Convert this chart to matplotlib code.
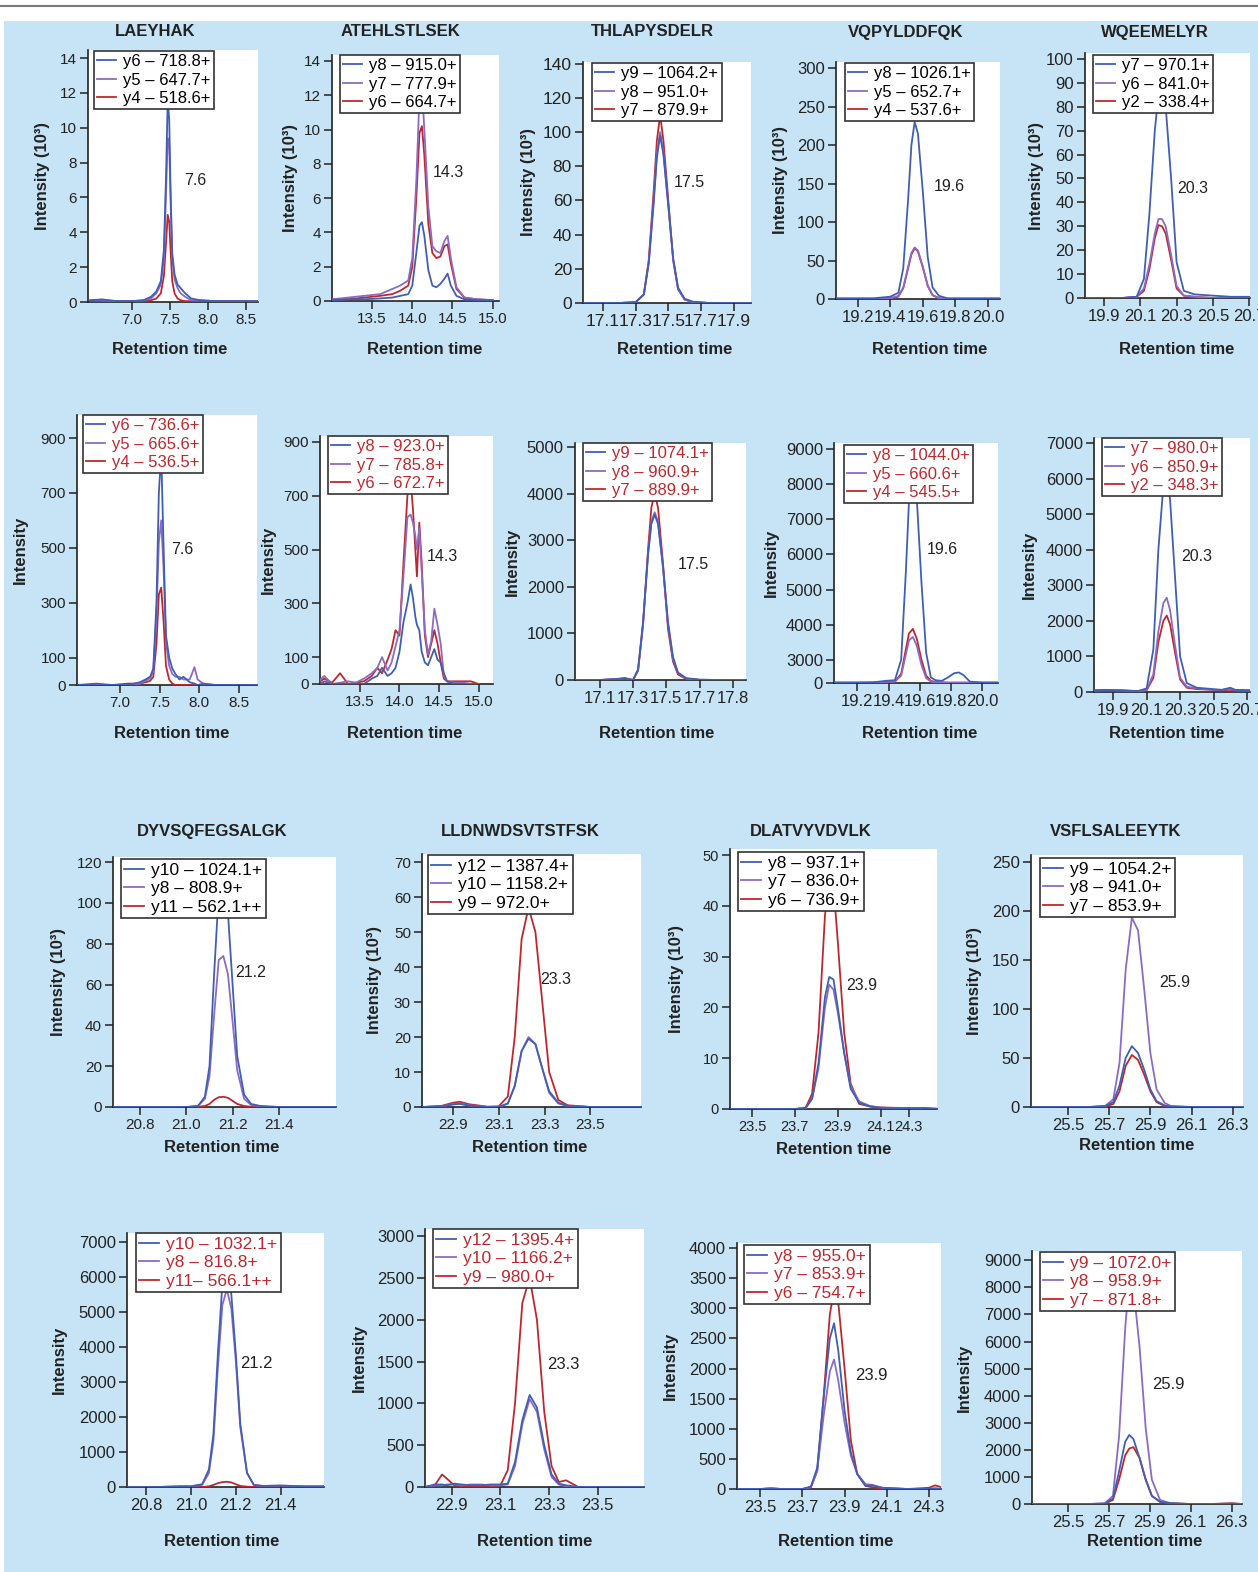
import matplotlib.pyplot as plt
from matplotlib.patches import Rectangle
from matplotlib.lines import Line2D

plt.rcParams['font.family'] = ['Liberation Sans', 'DejaVu Sans']

# ---------------- data ----------------
titles = ["LAEYHAK", "ATEHLSTLSEK", "THLAPYSDELR", "VQPYLDDFQK", "WQEEMELYR",
          "DYVSQFEGSALGK", "LLDNWDSVTSTFSK", "DLATVYVDVLK", "VSFLSALEEYTK"]
peak_rt = ["7.6", "14.3", "17.5", "19.6", "20.3",
           "7.6", "14.3", "17.5", "19.6", "20.3",
           "21.2", "23.3", "23.9", "25.9",
           "21.2", "23.3", "23.9", "25.9"]

# row 1, intensity in 10^3
p01_ions = ["y6 \u2013 718.8+", "y5 \u2013 647.7+", "y4 \u2013 518.6+"]
p01_time = [6.45, 6.6, 6.8, 7.0, 7.15, 7.25, 7.32, 7.38, 7.42, 7.45, 7.47, 7.49, 7.51, 7.53, 7.56, 7.6, 7.64, 7.7, 7.78, 7.9, 8.1, 8.4, 8.65]
p01_blue = [0.1, 0.15, 0.05, 0.05, 0.1, 0.3, 0.6, 1.2, 3.0, 7.5, 11.6, 10.5, 6.0, 2.8, 1.6, 1.0, 0.8, 0.5, 0.2, 0.1, 0.05, 0.05, 0.05]
p01_purple = [0.1, 0.1, 0.05, 0.05, 0.1, 0.2, 0.5, 1.0, 2.5, 6.5, 9.4, 9.0, 5.5, 2.5, 1.3, 0.8, 0.5, 0.3, 0.1, 0.1, 0.05, 0.05, 0.05]
p01_red = [0.05, 0.05, 0.05, 0.05, 0.05, 0.1, 0.2, 0.5, 1.5, 3.5, 5.0, 4.6, 2.8, 1.2, 0.5, 0.2, 0.1, 0.05, 0.05, 0.05, 0.05, 0.05, 0.05]

p02_ions = ["y8 \u2013 915.0+", "y7 \u2013 777.9+", "y6 \u2013 664.7+"]
p02_time = [13.0, 13.2, 13.4, 13.6, 13.75, 13.85, 13.95, 14.0, 14.05, 14.09, 14.12, 14.15, 14.2, 14.25, 14.3, 14.35, 14.4, 14.44, 14.48, 14.55, 14.65, 14.8, 15.0]
p02_blue = [0.05, 0.1, 0.1, 0.15, 0.2, 0.3, 0.4, 0.9, 2.8, 4.4, 4.6, 3.8, 1.8, 0.9, 0.8, 1.0, 1.3, 1.6, 0.9, 0.3, 0.1, 0.05, 0.05]
p02_purple = [0.1, 0.2, 0.3, 0.4, 0.7, 0.9, 1.2, 2.5, 7.0, 12.0, 12.5, 10.0, 5.5, 3.2, 2.9, 2.8, 3.5, 3.8, 2.5, 0.8, 0.2, 0.1, 0.05]
p02_red = [0.1, 0.1, 0.2, 0.3, 0.4, 0.6, 0.9, 2.0, 6.0, 9.8, 10.2, 8.5, 4.5, 2.8, 2.5, 2.6, 3.2, 3.3, 2.2, 0.7, 0.2, 0.1, 0.05]

p03_ions = ["y9 \u2013 1064.2+", "y8 \u2013 951.0+", "y7 \u2013 879.9+"]
p03_time = [16.98, 17.1, 17.2, 17.3, 17.35, 17.38, 17.41, 17.43, 17.45, 17.47, 17.5, 17.53, 17.56, 17.6, 17.65, 17.75, 17.9, 18.0]
p03_blue = [0, 0, 0, 0.5, 5, 23, 58, 85, 98, 87, 57, 26, 9, 2.5, 0.8, 0, 0, 0]
p03_purple = [0, 0, 0, 0.5, 5, 24, 60, 88, 100, 88, 57, 25, 8, 2, 0.5, 0, 0, 0]
p03_red = [0, 0, 0, 0.5, 5, 25, 65, 95, 110, 95, 60, 25, 8, 2, 0.5, 0, 0, 0]

p04_ions = ["y8 \u2013 1026.1+", "y5 \u2013 652.7+", "y4 \u2013 537.6+"]
p04_time = [19.07, 19.2, 19.3, 19.4, 19.45, 19.48, 19.51, 19.53, 19.55, 19.57, 19.6, 19.63, 19.66, 19.7, 19.75, 19.85, 20.0, 20.07]
p04_blue = [1, 1, 1, 3, 8, 40, 130, 200, 230, 215, 140, 55, 15, 4, 1, 1, 1, 1]
p04_purple = [0, 0, 0, 1, 4, 15, 42, 60, 67, 63, 42, 18, 5, 1, 0, 0, 0, 0]
p04_red = [0, 0, 0, 1, 3, 14, 40, 58, 66, 62, 41, 17, 5, 1, 0, 0, 0, 0]

p05_ions = ["y7 \u2013 970.1+", "y6 \u2013 841.0+", "y2 \u2013 338.4+"]
p05_time = [19.8, 19.9, 20.0, 20.08, 20.12, 20.15, 20.18, 20.2, 20.22, 20.24, 20.27, 20.3, 20.34, 20.4, 20.5, 20.6, 20.75]
p05_blue = [0, 0, 0, 0.5, 8, 35, 70, 85, 87, 80, 50, 15, 3, 1.5, 1, 0.5, 0.5]
p05_purple = [0, 0, 0, 0.5, 4, 14, 27, 33, 33, 30, 18, 5, 1, 0.5, 0, 0, 0]
p05_red = [0, 0, 0, 0.5, 3, 12, 25, 30.5, 30, 27, 16, 4, 1, 0.5, 0, 0, 0]

# row 2, intensity
p06_ions = ["y6 \u2013 736.6+", "y5 \u2013 665.6+", "y4 \u2013 536.5+"]
p06_time = [6.46, 6.7, 6.9, 7.1, 7.25, 7.32, 7.38, 7.42, 7.46, 7.49, 7.52, 7.55, 7.58, 7.62, 7.66, 7.7, 7.75, 7.8, 7.88, 7.94, 7.98, 8.05, 8.2, 8.5, 8.73]
p06_blue = [0, 5, 0, 0, 10, 20, 30, 60, 300, 700, 845, 500, 180, 100, 60, 40, 20, 30, 10, 5, 0, 5, 0, 0, 0]
p06_purple = [0, 0, 0, 0, 5, 15, 25, 50, 250, 520, 600, 420, 160, 70, 40, 30, 30, 20, 20, 65, 20, 5, 0, 0, 0]
p06_red = [0, 0, 0, 5, 5, 10, 15, 30, 150, 330, 355, 230, 70, 20, 5, 0, 0, 0, 0, 0, 0, 0, 0, 0, 0]

p07_ions = ["y8 \u2013 923.0+", "y7 \u2013 785.8+", "y6 \u2013 672.7+"]
p07_time = [13.0, 13.05, 13.15, 13.25, 13.35, 13.45, 13.55, 13.65, 13.72, 13.78, 13.85, 13.9, 13.95, 14.0, 14.05, 14.1, 14.14, 14.17, 14.2, 14.22, 14.25, 14.28, 14.32, 14.36, 14.4, 14.44, 14.48, 14.52, 14.56, 14.6, 14.7, 14.8, 14.9, 15.0]
p07_blue = [0, 10, 0, 0, 0, 0, 0, 20, 30, 60, 30, 40, 60, 120, 230, 300, 370, 320, 250, 220, 200, 120, 80, 70, 100, 130, 90, 80, 40, 10, 0, 0, 0, 0]
p07_purple = [15, 30, 0, 5, 10, 5, 20, 40, 60, 100, 50, 80, 140, 200, 400, 620, 630, 600, 550, 500, 580, 420, 200, 110, 160, 280, 220, 150, 30, 10, 5, 5, 0, 0]
p07_red = [10, 20, 5, 40, 0, 5, 10, 30, 60, 40, 90, 130, 200, 180, 450, 700, 760, 650, 500, 400, 600, 450, 180, 100, 150, 200, 150, 80, 20, 10, 10, 10, 10, 0]

p08_ions = ["y9 \u2013 1074.1+", "y8 \u2013 960.9+", "y7 \u2013 889.9+"]
p08_time = [16.95, 17.1, 17.2, 17.25, 17.3, 17.33, 17.36, 17.39, 17.41, 17.43, 17.45, 17.48, 17.51, 17.54, 17.57, 17.62, 17.7, 17.8, 17.98]
p08_blue = [0, 0, 20, 40, 0, 230, 1250, 2700, 3350, 3550, 3350, 2450, 1250, 500, 160, 40, 10, 0, 0]
p08_purple = [0, 0, 20, 40, 0, 220, 1200, 2700, 3400, 3600, 3400, 2400, 1200, 450, 150, 30, 0, 0, 0]
p08_red = [0, 0, 20, 30, 0, 200, 1200, 2800, 3700, 4000, 3700, 2500, 1100, 400, 120, 20, 0, 0, 0]

p09_ions = ["y8 \u2013 1044.0+", "y5 \u2013 660.6+", "y4 \u2013 545.5+"]
p09_time = [19.05, 19.2, 19.3, 19.38, 19.44, 19.48, 19.51, 19.53, 19.555, 19.58, 19.61, 19.64, 19.67, 19.7, 19.74, 19.78, 19.82, 19.85, 19.88, 19.92, 20.0, 20.1]
p09_blue = [2350, 2350, 2360, 2400, 2420, 3000, 5500, 7500, 8370, 7600, 5200, 3200, 2500, 2420, 2400, 2500, 2620, 2640, 2560, 2380, 2350, 2350]
p09_purple = [2350, 2350, 2350, 2370, 2380, 2550, 3150, 3550, 3650, 3400, 2850, 2480, 2380, 2360, 2355, 2350, 2350, 2350, 2350, 2350, 2350, 2350]
p09_red = [2350, 2350, 2350, 2370, 2380, 2600, 3300, 3750, 3880, 3600, 3000, 2550, 2400, 2370, 2360, 2350, 2350, 2350, 2350, 2350, 2350, 2350]

p10_ions = ["y7 \u2013 980.0+", "y6 \u2013 850.9+", "y2 \u2013 348.3+"]
p10_time = [19.79, 19.85, 19.95, 20.05, 20.1, 20.14, 20.17, 20.2, 20.22, 20.24, 20.27, 20.3, 20.34, 20.4, 20.45, 20.5, 20.55, 20.6, 20.63, 20.7, 20.75]
p10_blue = [50, 60, 40, 30, 100, 1200, 4000, 5800, 6100, 5400, 3200, 1000, 250, 120, 100, 80, 60, 120, 60, 50, 50]
p10_purple = [40, 50, 40, 20, 60, 500, 1700, 2500, 2650, 2300, 1300, 400, 150, 100, 80, 60, 60, 90, 50, 40, 40]
p10_red = [40, 50, 50, 20, 50, 400, 1400, 2000, 2150, 1900, 1100, 350, 120, 80, 70, 60, 50, 60, 40, 40, 40]

# row 3, intensity in 10^3
p11_ions = ["y10 \u2013 1024.1+", "y8 \u2013 808.9+", "y11 \u2013 562.1++"]
p11_time = [20.68, 20.8, 20.9, 21.0, 21.05, 21.08, 21.1, 21.12, 21.14, 21.16, 21.18, 21.2, 21.22, 21.25, 21.28, 21.32, 21.4, 21.5, 21.65]
p11_blue = [0, 0, 0, 0, 0.5, 5, 20, 65, 105, 108, 95, 60, 25, 6, 1.5, 0.5, 0, 0, 0]
p11_purple = [0, 0, 0, 0, 0.5, 4, 15, 45, 72, 74, 65, 42, 18, 4, 1, 0.3, 0, 0, 0]
p11_red = [0, 0, 0, 0, 0.1, 0.5, 1.5, 3.5, 4.8, 5, 4.5, 3, 1.5, 0.5, 0.1, 0, 0, 0, 0]

p12_ions = ["y12 \u2013 1387.4+", "y10 \u2013 1158.2+", "y9 \u2013 972.0+"]
p12_time = [22.77, 22.85, 22.9, 22.93, 22.97, 23.05, 23.1, 23.14, 23.17, 23.2, 23.23, 23.26, 23.29, 23.32, 23.36, 23.4, 23.5, 23.72]
p12_blue = [0, 0.2, 0.7, 0.9, 0.4, 0, 0, 1, 6, 16, 19.5, 18, 11, 4.5, 1.2, 0.3, 0, 0]
p12_purple = [0, 0.2, 0.8, 1.0, 0.5, 0, 0, 1, 6, 16, 20, 18, 11, 4, 1, 0.3, 0, 0]
p12_red = [0, 0.3, 1.2, 1.5, 0.8, 0.1, 0.2, 3, 20, 48, 57, 50, 30, 10, 2, 0.5, 0, 0]

p13_ions = ["y8 \u2013 937.1+", "y7 \u2013 836.0+", "y6 \u2013 736.9+"]
p13_time = [23.4, 23.5, 23.6, 23.7, 23.75, 23.78, 23.81, 23.84, 23.86, 23.88, 23.9, 23.93, 23.96, 24.0, 24.05, 24.1, 24.2, 24.3, 24.36]
p13_blue = [0, 0, 0, 0, 0.2, 2, 9, 22, 26, 25.5, 20, 11, 4, 1.2, 0.5, 0.2, 0.1, 0.2, 0.1]
p13_purple = [0, 0, 0, 0, 0.2, 2, 8, 20, 24.5, 23.5, 19, 11, 4.5, 1.5, 0.6, 0.3, 0.1, 0.1, 0]
p13_red = [0, 0, 0, 0, 0.2, 3, 15, 38, 45.5, 44, 33, 15, 5, 1, 0.5, 0.3, 0.2, 0.1, 0]

p14_ions = ["y9 \u2013 1054.2+", "y8 \u2013 941.0+", "y7 \u2013 853.9+"]
p14_time = [25.32, 25.5, 25.6, 25.68, 25.72, 25.75, 25.78, 25.81, 25.84, 25.87, 25.9, 25.93, 25.97, 26.0, 26.1, 26.2, 26.35]
p14_blue = [0, 0, 0, 1, 5, 22, 50, 62, 55, 38, 18, 6, 1.5, 0.5, 0, 0, 0]
p14_purple = [0, 0, 0, 1, 8, 45, 140, 193, 180, 120, 55, 18, 4, 1, 0, 0, 0]
p14_red = [0, 0, 0, 0.5, 3, 16, 42, 53, 48, 33, 16, 5, 1, 0.3, 0, 0, 0]

# row 4, intensity
p15_ions = ["y10 \u2013 1032.1+", "y8 \u2013 816.8+", "y11\u2013 566.1++"]
p15_time = [20.72, 20.85, 20.95, 21.0, 21.05, 21.08, 21.1, 21.12, 21.14, 21.16, 21.18, 21.2, 21.22, 21.25, 21.28, 21.32, 21.4, 21.5, 21.59]
p15_blue = [0, 0, 20, 20, 80, 500, 1500, 3800, 5800, 6300, 5500, 3800, 1800, 400, 60, 30, 40, 20, 20]
p15_purple = [0, 0, 20, 20, 60, 400, 1300, 3400, 5200, 5650, 5100, 3600, 1700, 400, 60, 30, 40, 20, 20]
p15_red = [0, 0, 0, 0, 0, 20, 60, 110, 140, 150, 130, 80, 30, 10, 0, 0, 0, 0, 0]

p16_ions = ["y12 \u2013 1395.4+", "y10 \u2013 1166.2+", "y9 \u2013 980.0+"]
p16_time = [22.79, 22.83, 22.86, 22.88, 22.91, 22.94, 22.98, 23.02, 23.06, 23.1, 23.13, 23.16, 23.19, 23.22, 23.25, 23.28, 23.31, 23.34, 23.37, 23.42, 23.5, 23.69]
p16_blue = [0, 30, 30, 20, 40, 30, 20, 20, 30, 30, 40, 300, 800, 1100, 950, 500, 150, 40, 20, 0, 0, 0]
p16_purple = [0, 20, 20, 30, 30, 20, 30, 30, 20, 20, 30, 250, 750, 1050, 900, 450, 120, 30, 10, 0, 0, 0]
p16_red = [0, 20, 150, 100, 20, 10, 0, 10, 0, 20, 200, 1000, 2200, 2500, 2000, 900, 250, 60, 80, 0, 0, 0]

p17_ions = ["y8 \u2013 955.0+", "y7 \u2013 853.9+", "y6 \u2013 754.7+"]
p17_time = [23.39, 23.5, 23.55, 23.6, 23.7, 23.74, 23.77, 23.8, 23.83, 23.85, 23.87, 23.9, 23.93, 23.96, 24.0, 24.03, 24.08, 24.2, 24.3, 24.33, 24.36]
p17_blue = [0, 0, 10, 0, 0, 40, 350, 1500, 2500, 2750, 2300, 1300, 600, 250, 50, 60, 20, 0, 0, 10, 0]
p17_purple = [0, 0, 10, 0, 0, 30, 300, 1200, 1950, 2150, 1800, 1100, 550, 250, 80, 70, 20, 0, 0, 10, 0]
p17_red = [0, 0, 10, 0, 0, 30, 300, 1500, 2900, 3300, 3100, 2000, 800, 250, 50, 30, 10, 0, 20, 60, 30]

p18_ions = ["y9 \u2013 1072.0+", "y8 \u2013 958.9+", "y7 \u2013 871.8+"]
p18_time = [25.33, 25.5, 25.6, 25.68, 25.72, 25.75, 25.78, 25.8, 25.82, 25.85, 25.88, 25.91, 25.95, 26.0, 26.1, 26.2, 26.3, 26.35]
p18_blue = [0, 0, 0, 20, 200, 1200, 2300, 2550, 2400, 1700, 900, 300, 80, 30, 0, 0, 10, 0]
p18_purple = [0, 0, 0, 20, 300, 2500, 6500, 8300, 8000, 5800, 2800, 900, 150, 30, 0, 0, 10, 0]
p18_red = [0, 0, 0, 10, 150, 900, 1800, 2050, 2100, 1700, 900, 300, 80, 20, 0, 0, 30, 0]

panels = [
    (p01_time, p01_blue, p01_purple, p01_red, p01_ions),
    (p02_time, p02_blue, p02_purple, p02_red, p02_ions),
    (p03_time, p03_blue, p03_purple, p03_red, p03_ions),
    (p04_time, p04_blue, p04_purple, p04_red, p04_ions),
    (p05_time, p05_blue, p05_purple, p05_red, p05_ions),
    (p06_time, p06_blue, p06_purple, p06_red, p06_ions),
    (p07_time, p07_blue, p07_purple, p07_red, p07_ions),
    (p08_time, p08_blue, p08_purple, p08_red, p08_ions),
    (p09_time, p09_blue, p09_purple, p09_red, p09_ions),
    (p10_time, p10_blue, p10_purple, p10_red, p10_ions),
    (p11_time, p11_blue, p11_purple, p11_red, p11_ions),
    (p12_time, p12_blue, p12_purple, p12_red, p12_ions),
    (p13_time, p13_blue, p13_purple, p13_red, p13_ions),
    (p14_time, p14_blue, p14_purple, p14_red, p14_ions),
    (p15_time, p15_blue, p15_purple, p15_red, p15_ions),
    (p16_time, p16_blue, p16_purple, p16_red, p16_ions),
    (p17_time, p17_blue, p17_purple, p17_red, p17_ions),
    (p18_time, p18_blue, p18_purple, p18_red, p18_ions),
]

# ---------------- axes setup ----------------
def steps(a, b, s):
    out = []
    v = a
    while v <= b + 1e-9:
        out.append(round(v, 3))
        v += s
    return out

xticks = [steps(7.0, 8.5, 0.5), steps(13.5, 15.0, 0.5), steps(17.1, 17.9, 0.2), steps(19.2, 20.0, 0.2), steps(19.9, 20.7, 0.2),
          steps(7.0, 8.5, 0.5), steps(13.5, 15.0, 0.5), steps(17.1, 17.9, 0.2), steps(19.2, 20.0, 0.2), steps(19.9, 20.7, 0.2),
          steps(20.8, 21.4, 0.2), steps(22.9, 23.5, 0.2), [23.5, 23.7, 23.9, 24.1, 24.23], steps(25.5, 26.3, 0.2),
          steps(20.8, 21.4, 0.2), steps(22.9, 23.5, 0.2), steps(23.5, 24.3, 0.2), steps(25.5, 26.3, 0.2)]
xticklabels = [None] * 18
xticklabels[7] = ["17.1", "17.3", "17.5", "17.7", "17.8"]
xticklabels[12] = ["23.5", "23.7", "23.9", "24.1", "24.3"]

yticks = [steps(0, 14, 2), steps(0, 14, 2), steps(0, 140, 20), steps(0, 300, 50), steps(0, 100, 10),
          [0, 100, 300, 500, 700, 900], [0, 100, 300, 500, 700, 900], steps(0, 5000, 1000),
          [2340] + steps(3000, 9000, 1000), steps(0, 7000, 1000),
          steps(0, 120, 20), steps(0, 70, 10), steps(0, 50, 10), steps(0, 250, 50),
          steps(0, 7000, 1000), steps(0, 3000, 500), steps(0, 4000, 500), steps(0, 9000, 1000)]
yticklabels = [None] * 18
yticklabels[8] = ["0"] + [str(v) for v in steps(3000, 9000, 1000)]

xlims = [(6.42, 8.66), (13.0, 15.08), (16.977, 18.007), (19.067, 20.074), (19.795, 20.705),
         (6.456, 8.73), (12.997, 15.18), (16.95, 17.98), (19.05, 20.1), (19.785, 20.718),
         (20.682, 21.648), (22.766, 23.72), (23.397, 24.363), (25.32, 26.35),
         (20.715, 21.593), (22.79, 23.69), (23.389, 24.358), (25.325, 26.35)]
ylims = [(0, 14.46), (0, 14.35), (0, 141), (0, 308), (0, 102.5),
         (0, 984), (0, 922), (0, 5086), (2340, 9170), (0, 7140),
         (0, 122.5), (0, 72.3), (0, 51.2), (0, 256.8),
         (0, 7257), (0, 3084), (0, 4083), (0, 9343)]

# pixel layout: left, right, top, bottom of each plot area
W, H = 1258, 1572
boxes = [(88, 258, 50, 302), (332, 499, 55, 301), (583, 751, 62, 303), (836, 1000, 62, 299), (1085, 1250, 53, 298),
         (77, 257, 415, 685), (320, 493, 436, 684), (575, 746, 443, 680), (834, 998, 443, 683), (1094, 1250, 438, 692),
         (113, 336, 857, 1107), (422, 641, 854, 1107), (730, 937, 849, 1109), (1031, 1243, 855, 1107),
         (127, 324, 1233, 1487), (425, 644, 1229, 1487), (737, 941, 1243, 1489), (1032, 1242, 1251, 1504)]
legend_xy = [(94, 51), (340, 55), (592, 63), (845, 63), (1093, 55),
             (83, 415), (328, 436), (583, 443), (844, 445), (1102, 438),
             (121, 859), (428, 855), (738, 852), (1040, 858),
             (136, 1233), (433, 1229), (744, 1245), (1040, 1252)]
ylabel_x = [43, 290, 529, 780, 1037, 20, 268, 512, 771, 1029, 58, 375, 677, 974, 59, 359, 670, 964]
xlabel_xy = [(170, 350), (425, 350), (675, 350), (930, 350), (1177, 350),
             (172, 733), (405, 733), (657, 733), (920, 733), (1167, 733),
             (222, 1148), (530, 1148), (834, 1150), (1137, 1146),
             (222, 1541), (535, 1541), (836, 1541), (1145, 1541)]
title_xy = [(155, 32), (400, 32), (652, 32), (906, 32), (1155, 32),
            (212, 832), (520, 832), (811, 832), (1116, 832)]
# peak label positions, in data units (time, intensity)
rt_xy = [(7.83, 7.0), (14.45, 7.5), (17.63, 70.5), (19.76, 146), (20.39, 45.9),
         (7.79, 492), (14.54, 474), (17.66, 2468), (19.745, 6128), (20.40, 3807),
         (21.28, 65.8), (23.35, 36.3), (24.01, 24.3), (26.02, 126.7),
         (21.29, 3530), (23.36, 1466), (24.025, 1879), (25.99, 4417)]
tick_size = [11, 11, 12.5, 12, 12, 11, 11, 12, 12, 12, 11, 11, 10.5, 12, 12, 12, 12, 12]
legend_size = [12, 12, 12, 12, 12, 12, 12, 12, 12, 12, 12.5, 12.5, 12.5, 12.5, 12.5, 12.5, 12.5, 12.5]

BLUE, PURPLE, RED = '#3f5fb5', '#8b6bc4', '#c0272d'
BG = '#c6e4f5'
INK = '#222222'

fig = plt.figure(figsize=(W / 100, H / 100), dpi=100, facecolor='white')
fig.patches.append(Rectangle((4 / W, 0), 1 - 4 / W, 1 - 21 / H, transform=fig.transFigure,
                             facecolor=BG, edgecolor='none', zorder=-5))
fig.add_artist(Line2D([0, 1], [1 - 5.5 / H] * 2, color='#7a7a7a', lw=1.5))

for i, (t, yb, yp, yr, ions) in enumerate(panels):
    l, r, tp, bt = boxes[i]
    ax = fig.add_axes([l / W, 1 - bt / H, (r - l) / W, (bt - tp) / H])
    ax.set_zorder(1)
    ax.set_facecolor('white')
    lr, = ax.plot(t, yr, color=RED, lw=1.3, zorder=3)
    lp, = ax.plot(t, yp, color=PURPLE, lw=1.3, zorder=4)
    lb, = ax.plot(t, yb, color=BLUE, lw=1.3, zorder=5)
    ax.set_xlim(*xlims[i])
    ax.set_ylim(*ylims[i])
    ax.set_xticks(xticks[i])
    ax.set_xticklabels(xticklabels[i] or [f"{v:.1f}" for v in xticks[i]])
    ax.set_yticks(yticks[i])
    ax.set_yticklabels(yticklabels[i] or [str(v) for v in yticks[i]])
    for s in ['top', 'right']:
        ax.spines[s].set_visible(False)
    for s in ['left', 'bottom']:
        ax.spines[s].set_linewidth(1.2)
        ax.spines[s].set_color(INK)
    ax.tick_params(direction='out', length=6, width=1.1, colors=INK, labelsize=tick_size[i], pad=2)

    row2or4 = (5 <= i <= 9) or i >= 14
    leg = ax.legend([lb, lp, lr], ions, loc='upper left',
                    bbox_to_anchor=(legend_xy[i][0] / W, 1 - legend_xy[i][1] / H),
                    bbox_transform=fig.transFigure, borderaxespad=0, fancybox=False,
                    framealpha=1, edgecolor='#333333', prop={'size': legend_size[i]},
                    handlelength=1.1, handletextpad=0.45, labelspacing=0.2, borderpad=0.2)
    leg.get_frame().set_linewidth(1.2)
    leg.set_zorder(10)
    for txt in leg.get_texts():
        txt.set_color(RED if row2or4 else 'black')

    ax.text(rt_xy[i][0], rt_xy[i][1], peak_rt[i], ha='center', va='center',
            fontsize=12 if i >= 14 else 11.5, color=INK)

    unit = "Intensity" if row2or4 else "Intensity (10\u00b3)"
    fig.text(ylabel_x[i] / W, 1 - (tp + bt) / 2 / H, unit, rotation=90, ha='center', va='center',
             fontsize=12, fontweight='bold', color=INK)
    fig.text(xlabel_xy[i][0] / W, 1 - xlabel_xy[i][1] / H, "Retention time", ha='center', va='center',
             fontsize=12, fontweight='bold', color=INK)

for name, (tx, ty) in zip(titles, title_xy):
    fig.text(tx / W, 1 - ty / H, name, ha='center', va='center', fontsize=12, fontweight='bold', color=INK)

fig.savefig('out.png', dpi=100, facecolor=fig.get_facecolor())
